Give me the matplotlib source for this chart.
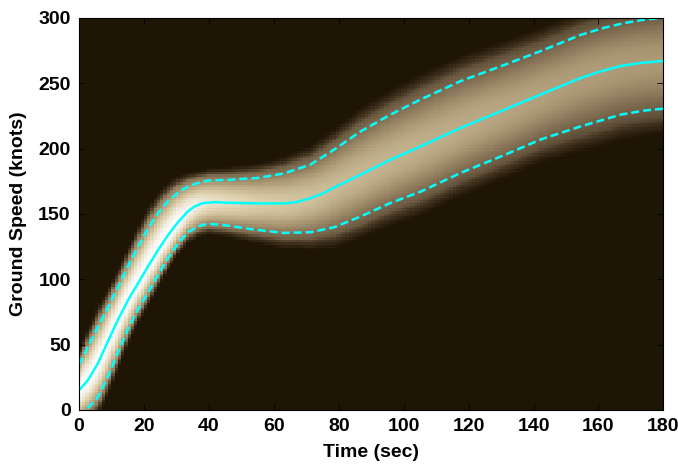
import numpy as np
import matplotlib
matplotlib.use('Agg')
import matplotlib.pyplot as plt
from matplotlib.colors import LinearSegmentedColormap

# mean ground speed through the takeoff roll / climb
mean_t = [0, 2.8, 5.9, 9, 12, 15.1, 18.2, 21.3, 24.4, 27.5, 30.6, 33.6, 35.5, 38, 42, 46, 55, 63, 67,
          71.3, 75, 78.5, 86.7, 96, 104.2, 117.6, 130, 142.3, 154.6, 160, 167, 173, 180]
mean_v = [15, 23, 36, 53, 69, 84, 97, 110, 122.5, 134, 144, 152, 155.5, 158.2, 159, 158.5, 158, 158, 159,
          162, 165.5, 170, 180, 191.5, 200.5, 215.8, 228.6, 241.4, 254, 258.5, 263.2, 265.5, 267]

# upper / lower spread bounds
upper_t = [0, 2.8, 5.9, 9, 12, 15.1, 18.2, 21.3, 24.4, 27.5, 30.6, 33.6, 36.7, 39.8, 46, 55, 63,
           71.3, 78.5, 86.7, 96, 105.2, 117.6, 130, 142.3, 154.6, 162, 168, 174, 180]
upper_v = [34.5, 48.5, 64, 79, 94, 110, 125, 139, 150.7, 160, 166.5, 171, 173.7, 175.5, 176, 177.5,
           180.8, 187.7, 199, 213, 226, 237.5, 251.6, 263, 274.6, 287, 292.5, 296, 298.5, 300]
lower_t = [0, 2.8, 5.9, 9, 12, 15.1, 18.2, 21.3, 24.4, 27.5, 30.6, 33.6, 36.7, 39.8, 46, 52.5, 63,
           71.3, 78.5, 86.7, 96, 105.2, 117.6, 130, 142.3, 154.6, 167, 174, 180]
lower_v = [-5, 1.5, 10, 26, 44, 62, 77, 90, 103.5, 116.5, 127.7, 136, 140.5, 142.5, 141, 138.5,
           135.4, 136, 139.7, 148, 158.4, 167, 181.4, 194, 207, 217, 226, 229, 230.5]

# relative peak density of each time slice
peak_t = [0, 30, 40, 55, 80, 110, 150, 180]
peak_v = [1.0, 1.0, 0.88, 0.8, 0.72, 0.68, 0.62, 0.6]

# density grid: 1 s by 2 knot bins
tc = np.arange(0.5, 180, 1.0)
vc = np.arange(1, 300, 2.0)
m = np.interp(tc, mean_t, mean_v)
up = np.interp(tc, upper_t, upper_v)
lo = np.interp(tc, lower_t, lower_v)
pk = np.interp(tc, peak_t, peak_v)

V = vc[:, None]
z = np.where(V > m, (V - m) / (up - m), (m - V) / (m - lo))
dens = pk * np.exp(-0.5 * z ** 2) * np.clip((1.55 - z) / 0.35, 0, 1)

cmap = LinearSegmentedColormap.from_list('speed', [
    (0.0, (31 / 255, 21 / 255, 5 / 255)),
    (0.2, (70 / 255, 55 / 255, 35 / 255)),
    (0.4, (120 / 255, 102 / 255, 76 / 255)),
    (0.6, (172 / 255, 152 / 255, 116 / 255)),
    (0.8, (220 / 255, 206 / 255, 170 / 255)),
    (1.0, (1, 1, 1)),
])

plt.rcParams['font.family'] = ['Liberation Sans', 'DejaVu Sans']
plt.rcParams['font.weight'] = 'bold'

fig = plt.figure(figsize=(6.78, 4.68), dpi=100)
ax = fig.add_axes([0.1165, 0.124, 0.862, 0.838])

ax.imshow(dens, origin='lower', extent=[0, 180, 0, 300], aspect='auto',
          cmap=cmap, vmin=0, vmax=1, interpolation='nearest')

dash = (0, (3.2, 1.6))
ax.plot(mean_t, mean_v, color='#00ffff', lw=1.8)
ax.plot(upper_t, upper_v, color='#00ffff', lw=1.8, linestyle=dash)
ax.plot(lower_t, lower_v, color='#00ffff', lw=1.8, linestyle=dash)

ax.set_xlim(0, 180)
ax.set_ylim(0, 300)
ax.set_xticks(range(0, 181, 20))
ax.set_yticks(range(0, 301, 50))
ax.tick_params(direction='in', top=True, right=True, length=4, width=0.6,
               labelsize=14, pad=6)
for lab in ax.get_xticklabels() + ax.get_yticklabels():
    lab.set_fontweight('bold')
ax.set_xlabel('Time (sec)', fontsize=14, fontweight='bold', labelpad=6)
ax.set_ylabel('Ground Speed (knots)', fontsize=14, fontweight='bold', labelpad=8)

fig.savefig('out.png', dpi=100)
